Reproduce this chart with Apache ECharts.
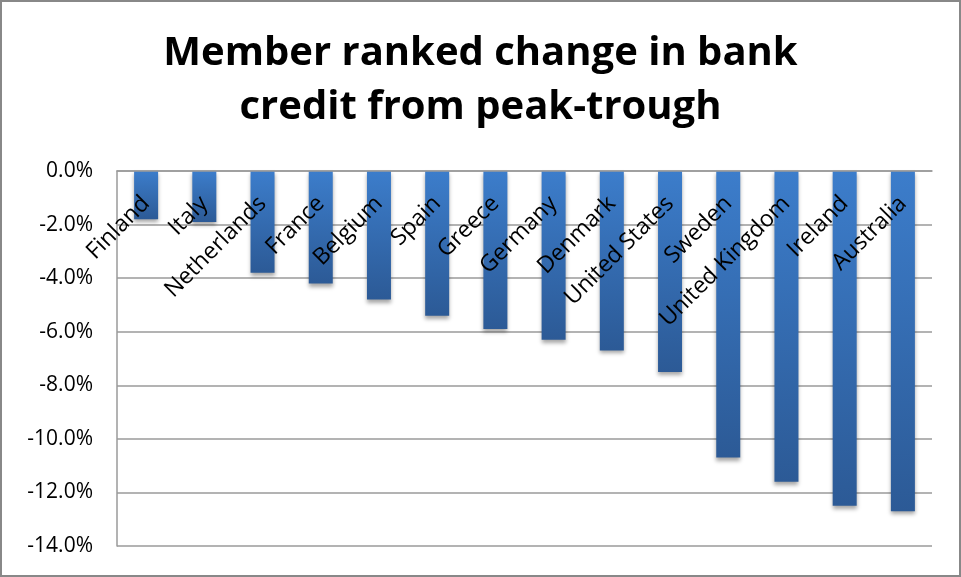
<!DOCTYPE html>
<html>
<head>
<meta charset="utf-8">
<script src="https://cdn.jsdelivr.net/npm/echarts@6/dist/echarts.min.js"></script>
<style>
  html, body { margin: 0; padding: 0; background: #fff; }
  #chart { width: 961px; height: 577px; }
</style>
</head>
<body>
<div id="chart"></div>
<script>
// Countries ranked by change in bank credit, peak to trough (%)
const countries = ['Finland', 'Italy', 'Netherlands', 'France', 'Belgium', 'Spain', 'Greece',
  'Germany', 'Denmark', 'United States', 'Sweden', 'United Kingdom', 'Ireland', 'Australia'];
const creditChange = [-1.8, -1.9, -3.8, -4.2, -4.8, -5.4, -5.9, -6.3, -6.7, -7.5, -10.7, -11.6, -12.5, -12.7];

const yMin = -14;
const yMax = 0;
const yStep = 2;

const chart = echarts.init(document.getElementById('chart'), null, { renderer: 'canvas' });
const FONT = '"Open Sans", sans-serif';

chart.setOption({
  animation: false,
  backgroundColor: '#ffffff',
  title: {
    text: 'Member ranked change in bank\ncredit from peak-trough',
    left: 'center',
    top: 22,
    textStyle: {
      fontFamily: FONT,
      fontWeight: 'bold',
      fontSize: 40,
      lineHeight: 54,
      color: '#000'
    }
  },
  grid: { left: 117, right: 29, top: 171, bottom: 31, containLabel: false },
  xAxis: {
    type: 'category',
    data: countries,
    position: 'top',
    z: 10,
    axisLine: { show: true, lineStyle: { color: '#9a9a9a', width: 1.5 } },
    axisTick: { show: false },
    axisLabel: {
      inside: true,
      rotate: 45,
      interval: 0,
      margin: 29,
      fontFamily: FONT,
      fontSize: 23,
      color: '#000'
    }
  },
  yAxis: {
    type: 'value',
    min: yMin,
    max: yMax,
    interval: yStep,
    axisLine: { show: true, lineStyle: { color: '#9a9a9a', width: 1.5 } },
    axisTick: { show: false },
    splitLine: { lineStyle: { color: '#9a9a9a', width: 1.5 } },
    axisLabel: {
      margin: 24,
      fontFamily: FONT,
      fontSize: 21,
      color: '#000',
      formatter: v => v.toFixed(1) + '%'
    }
  },
  series: [{
    type: 'bar',
    data: creditChange,
    barWidth: 24,
    itemStyle: {
      color: new echarts.graphic.LinearGradient(0, 0, 0, 1, [
        { offset: 0, color: '#3c7dcb' },
        { offset: 1, color: '#2c5a96' }
      ]),
      shadowColor: 'rgba(0,0,0,0.35)',
      shadowBlur: 4,
      shadowOffsetY: 3
    }
  }],
  graphic: [{
    type: 'rect',
    shape: { x: 1, y: 1, width: 959, height: 575 },
    style: { fill: 'none', stroke: '#888', lineWidth: 2 },
    silent: true
  }]
});
</script>
</body>
</html>
